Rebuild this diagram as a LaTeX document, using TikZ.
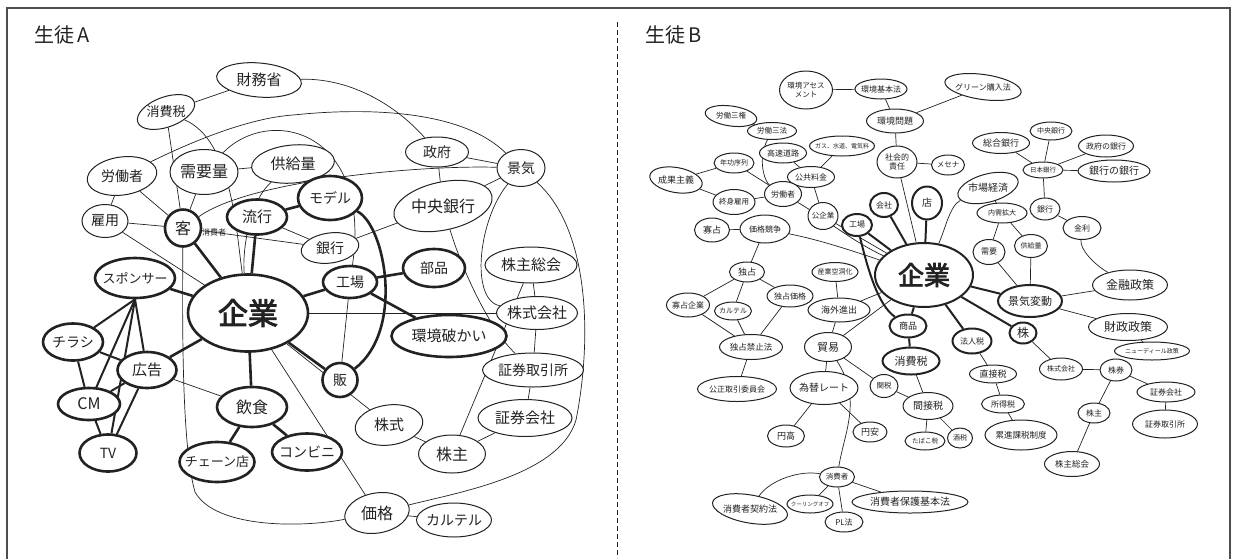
\documentclass[tikz,border=0pt]{standalone}
\usepackage{fontspec}
\setmainfont{Noto Sans CJK JP}
\newfontfamily\jpbold{Noto Sans CJK JP}[FakeBold=3]
\usetikzlibrary{shapes.geometric,backgrounds}
\definecolor{ink}{HTML}{222222}
\newcommand\fz[1]{\fontsize{#1pt}{\dimexpr #1pt*6/5\relax}\selectfont}
\tikzset{
 bub/.style={ellipse,draw=ink,fill=white,line width=1pt,inner sep=0pt},
 tk/.style={line width=2.6pt},
 tkb/.style={line width=2pt},
 txt/.style={inner sep=0pt,align=center,text=ink},
 ln/.style={draw=ink,line width=0.7pt},
 tl/.style={draw=ink,line width=2.6pt},
 tlb/.style={draw=ink,line width=2pt},
}
% #1 options, #2 name, #3 x, #4 y, #5 w, #6 h, #7 rotation of the bubble, #8 text
\newcommand\bb[8][]{\node[bub,minimum width=#5pt,minimum height=#6pt,rotate=#7,#1] (#2) at (#3,#4) {};\node[txt,#1,draw=none,fill=none] at (#2.center) {#8};}
\begin{document}
\begin{tikzpicture}[x=1pt,y=-1pt]
\useasboundingbox (0,0) rectangle (1235,558);
\draw[ink!80,line width=1.2pt] (7,560) -- (7,8) -- (1230,8) -- (1230,560);
\draw[ink,line width=0.8pt,dash pattern=on 5pt off 3pt] (617,22) -- (617,558);
\node[anchor=west,font=\fz{20},inner sep=0,text=ink] (tA) at (34,35) {生徒\,A};
\node[anchor=west,font=\fz{20},inner sep=0,text=ink] (tB) at (645,35) {生徒\,B};
% ---------- Panel A ----------
\bb[font=\fz{15}]{a1}{259}{80}{85}{34}{-5}{財務省}
\bb[font=\fz{13}]{a2}{166}{112}{60}{30}{20}{消費税}
\bb[font=\fz{14}]{a3}{122}{176}{70}{38}{8}{労働者}
\bb[font=\fz{16}]{a4}{204}{172}{68}{45}{0}{需要量}
\bb[font=\fz{15}]{a5}{293}{164}{83}{38}{5}{供給量}
\bb[font=\fz{14}]{a6}{105}{221}{46}{33}{0}{雇用}
\bb[tk,font=\fz{16}]{a7}{183}{228}{36}{37}{0}{客}
\bb[tk,font=\fz{15}]{a8}{257}{217}{60}{35}{0}{流行}
\bb[tk,font=\fz{14}]{a9}{330}{198}{64}{44}{0}{モデル}
\bb[font=\fz{14}]{a10}{330}{248}{58}{30}{8}{銀行}
\bb[font=\fz{14}]{a11}{437}{152}{63}{30}{0}{政府}
\bb[font=\fz{14}]{a12}{521}{168}{48}{37}{0}{景気}
\bb[font=\fz{16}]{a13}{443}{206}{100}{48}{12}{中央銀行}
\bb[tk,font=\fz{14}]{a14}{434}{268}{62}{38}{0}{部品}
\bb[font=\fz{15}]{a15}{531}{265}{92}{36}{0}{株主総会}
\bb[tk,font=\fz{14}]{a16}{350}{282}{54}{32}{0}{工場}
\bb[font=\fz{15}]{a17}{537}{313}{81}{33}{0}{株式会社}
\bb[tk,font=\fz{15}]{a18}{449}{336}{115}{42}{0}{環境破かい}
\bb[font=\fz{14}]{a19}{533}{370}{101}{34}{0}{証券取引所}
\bb[tk,font=\fz{14}]{a20}{340}{380}{35}{34}{0}{販}
\bb[font=\fz{15}]{a21}{389}{425}{68}{40}{8}{株式}
\bb[font=\fz{15}]{a22}{525}{418}{94}{37}{0}{証券会社}
\bb[font=\fz{16}]{a23}{452}{454}{67}{38}{0}{株主}
\bb[font=\fz{16}]{a24}{377}{513}{65}{40}{10}{価格}
\bb[font=\fz{14}]{a25}{454}{520}{75}{34}{0}{カルテル}
\bb[tk,font=\fz{13}]{a26}{135}{278}{80}{40}{0}{スポンサー}
\bb[tk,font=\jpbold\fz{30}]{a27}{248}{313}{120}{77}{0}{企業}
\bb[tk,font=\fz{14}]{a28}{73}{342}{60}{37}{0}{チラシ}
\bb[tk,font=\fz{15}]{a29}{147}{370}{59}{36}{0}{広告}
\bb[tk,font=\fz{16}]{a30}{89}{404}{62}{32}{0}{CM}
\bb[tk,font=\fz{16}]{a31}{252}{407}{70}{40}{0}{飲食}
\bb[tk,font=\fz{14}]{a32}{108}{453}{57}{37}{0}{TV}
\bb[tk,font=\fz{13}]{a33}{217}{462}{75}{40}{0}{チェーン店}
\bb[tk,font=\fz{14}]{a34}{307}{452}{70}{37}{0}{コンビニ}
\node[txt,font=\fz{8}] (a7s) at (214,232) {消費者};
% ---------- Panel B ----------
\bb[font=\fz{7.5}]{b1}{806}{90}{53}{38}{0}{環境アセス\\メント}
\bb[font=\fz{8}]{b2}{881}{89}{52}{20}{0}{環境基本法}
\bb[font=\fz{7.5}]{b3}{731}{116}{52}{20}{-8}{労働三権}
\bb[font=\fz{7.5}]{b4}{772}{131}{49}{17}{0}{労働三法}
\bb[font=\fz{9}]{b5}{895}{121}{57}{24}{0}{環境問題}
\bb[font=\fz{6}]{b6}{842}{146}{65}{20}{0}{ガス、水道、電気料}
\bb[font=\fz{8}]{b7}{897}{162}{40}{32}{0}{社会的\\責任}
\bb[font=\fz{8}]{b8}{783}{153}{47}{20}{0}{高速道路}
\bb[font=\fz{7}]{b9}{734}{163}{40}{20}{0}{年功序列}
\bb[font=\fz{9}]{b10}{676}{180}{53}{25}{-10}{成果主義}
\bb[font=\fz{8}]{b11}{811}{177}{47}{21}{0}{公共料金}
\bb[font=\fz{7.5}]{b12}{734}{202}{42}{25}{0}{終身雇用}
\bb[font=\fz{8}]{b13}{783}{194}{37}{25}{0}{労働者}
\bb[font=\fz{7.5}]{b14}{823}{216}{30}{27}{0}{公企業}
\bb[font=\fz{9}]{b15}{712}{230}{35}{24}{0}{寡占}
\bb[font=\fz{8}]{b16}{765}{229}{50}{28}{0}{価格競争}
\bb[tkb,font=\fz{8}]{b17}{857}{225}{30}{22}{0}{工場}
\bb[tkb,font=\fz{8}]{b18}{884}{205}{28}{24}{0}{会社}
\bb[tkb,font=\fz{10}]{b19}{927}{203}{30}{33}{0}{店}
\bb[font=\fz{7.5}]{b20}{948}{165}{33}{20}{0}{メセナ}
\bb[font=\fz{8}]{b21}{983}{87}{77}{25}{-8}{グリーン購入法}
\bb[font=\fz{9}]{b22}{1001}{143}{57}{21}{0}{総合銀行}
\bb[font=\fz{7}]{b23}{1051}{131}{42}{18}{0}{中央銀行}
\bb[font=\fz{8}]{b24}{1106}{146}{55}{22}{0}{政府の銀行}
\bb[font=\fz{6.5}]{b25}{1043}{170}{40}{16}{0}{日本銀行}
\bb[font=\fz{10}]{b26}{1114}{171}{72}{22}{0}{銀行の銀行}
\bb[font=\fz{10}]{b27}{988}{188}{62}{28}{15}{市場経済}
\bb[font=\fz{7}]{b28}{1002}{213}{50}{20}{0}{内需拡大}
\bb[font=\fz{8}]{b29}{1045}{209}{30}{22}{0}{銀行}
\bb[font=\fz{8}]{b30}{1082}{228}{38}{23}{0}{金利}
\bb[font=\fz{8}]{b31}{989}{252}{32}{25}{0}{需要}
\bb[font=\fz{7}]{b32}{1031}{246}{33}{23}{0}{供給量}
\bb[tkb,font=\jpbold\fz{26}]{b33}{924}{275}{98}{64}{0}{企業}
\bb[tkb,font=\fz{11}]{b34}{1030}{301}{64}{32}{0}{景気変動}
\bb[font=\fz{12}]{b35}{1130}{285}{75}{30}{0}{金融政策}
\bb[font=\fz{12}]{b36}{1128}{327}{79}{27}{0}{財政政策}
\bb[font=\fz{6}]{b37}{1152}{351}{75}{18}{0}{ニューディール政策}
\bb[tkb,font=\fz{12}]{b38}{1023}{333}{27}{21}{0}{株}
\bb[tkb,font=\fz{8}]{b39}{972}{341}{39}{25}{0}{法人税}
\bb[font=\fz{7}]{b40}{1061}{369}{43}{22}{0}{株式会社}
\bb[font=\fz{8}]{b41}{1116}{370}{32}{22}{0}{株券}
\bb[font=\fz{8}]{b42}{1166}{392}{58}{20}{0}{証券会社}
\bb[font=\fz{9}]{b43}{993}{374}{47}{18}{0}{直接税}
\bb[font=\fz{8}]{b44}{1003}{404}{43}{18}{0}{所得税}
\bb[font=\fz{8.5}]{b45}{1021}{435}{72}{30}{0}{累進課税制度}
\bb[font=\fz{8}]{b46}{1094}{413}{32}{20}{0}{株主}
\bb[font=\fz{8}]{b47}{1165}{424}{65}{28}{0}{証券取引所}
\bb[font=\fz{8.5}]{b48}{1072}{464}{55}{25}{0}{株主総会}
\bb[tkb,font=\fz{11}]{b49}{911}{361}{57}{27}{0}{消費税}
\bb[tkb,font=\fz{9}]{b50}{908}{326}{37}{23}{0}{商品}
\bb[font=\fz{7.5}]{b51}{884}{386}{28}{23}{0}{関税}
\bb[font=\fz{10}]{b52}{928}{406}{50}{27}{0}{間接税}
\bb[font=\fz{6.5}]{b53}{925}{441}{40}{18}{0}{たばこ税}
\bb[font=\fz{7}]{b54}{960}{438}{25}{20}{0}{酒税}
\bb[font=\fz{7}]{b55}{835}{272}{46}{19}{0}{産業空洞化}
\bb[font=\fz{9}]{b56}{747}{272}{35}{20}{0}{独占}
\bb[font=\fz{8}]{b57}{790}{296}{46}{22}{0}{独占価格}
\bb[font=\fz{9}]{b58}{839}{310}{62}{24}{0}{海外進出}
\bb[font=\fz{8}]{b59}{688}{305}{43}{24}{0}{寡占企業}
\bb[font=\fz{7}]{b60}{733}{311}{37}{18}{0}{カルテル}
\bb[font=\fz{8.5}]{b61}{751}{347}{63}{25}{0}{独占禁止法}
\bb[font=\fz{11}]{b62}{828}{347}{47}{29}{0}{貿易}
\bb[font=\fz{8}]{b63}{737}{389}{79}{25}{0}{公正取引委員会}
\bb[font=\fz{10}]{b64}{824}{388}{68}{33}{0}{為替レート}
\bb[font=\fz{9}]{b65}{786}{436}{37}{22}{0}{円高}
\bb[font=\fz{9}]{b66}{870}{432}{34}{20}{0}{円安}
\bb[font=\fz{7.5}]{b67}{837}{477}{35}{20}{0}{消費者}
\bb[font=\fz{9}]{b68}{750}{509}{76}{28}{-10}{消費者契約法}
\bb[font=\fz{5.5}]{b69}{810}{504}{46}{18}{0}{クーリングオフ}
\bb[font=\fz{8}]{b70}{844}{522}{38}{20}{0}{PL法}
\bb[font=\fz{10}]{b71}{910}{502}{116}{22}{0}{消費者保護基本法}
\begin{pgfonlayer}{background}
% A thin
\draw[ln] (a1)--(a2);
\draw[ln] (a1) .. controls (360,78) and (405,115) .. (a11);
\draw[ln] (a2)--(a7);
\draw[ln] (a2) .. controls (232,140) and (236,230) .. (a27);
\draw[ln] (a3)--(a6); \draw[ln] (a3)--(a7); \draw[ln] (a6)--(a7);
\draw[ln] (a6)--(a27); \draw[ln] (a4)--(a7); \draw[ln] (a4)--(a5);
\draw[ln] (a3) .. controls (195,140) and (250,118) .. (293,115) .. controls (360,108) and (460,108) .. (a12);
\draw[ln] (a4) .. controls (270,105) and (372,130) .. (a16);
\draw[ln] (a5) .. controls (250,200) and (242,250) .. (a27);
\draw[ln] (a7) .. controls (250,180) and (420,165) .. (a12);
\draw[ln] (a7)--(a10); \draw[ln] (a8)--(a10);
\draw[ln] (a7) .. controls (182,350) and (183,450) .. (195,492) .. controls (215,528) and (300,528) .. (a24);
\draw[ln] (a11)--(a12); \draw[ln] (a11)--(a13); \draw[ln] (a13)--(a12); \draw[ln] (a13)--(a10);
\draw[ln] (a13) .. controls (462,270) and (490,330) .. (a19);
\draw[ln] (a12) .. controls (590,230) and (592,340) .. (576,420) .. controls (560,475) and (460,492) .. (a24);
\draw[ln] (a12) .. controls (478,220) and (470,300) .. (a17);
\draw[ln] (a15)--(a23); \draw[ln] (a15)--(a17); \draw[ln] (a17)--(a19);
\draw[ln] (a19)--(a22); \draw[ln] (a22)--(a23); \draw[ln] (a21)--(a23); \draw[ln] (a24)--(a25);
\draw[ln] (a27)--(a21); \draw[ln] (a27)--(a24); \draw[ln] (a27)--(a17);
\draw[ln] (a29)--(a31); \draw[ln] (a16)--(a20);
% A thick
\draw[tl] (a27)--(a7); \draw[tl] (a27)--(a8); \draw[tl] (a27)--(a16); \draw[tl] (a27)--(a20);
\draw[tl] (a27)--(a31); \draw[tl] (a27)--(a26); \draw[tl] (a27)--(a29);
\draw[tl] (a8)--(a9); \draw[tl] (a16)--(a14); \draw[tl] (a16)--(a18);
\draw[tl] (a31)--(a33); \draw[tl] (a31)--(a34);
\draw[tl] (a9) .. controls (385,225) and (405,330) .. (a20);
\draw[tlb] (a26.south)--(a28); \draw[tlb] (a26.south)--(a30); \draw[tlb] (a26.south)--(a32); \draw[tlb] (a26.south)--(a29);
\draw[tlb] (a28)--(a30); \draw[tlb] (a28)--(a29); \draw[tlb] (a30)--(a29); \draw[tlb] (a30)--(a32); \draw[tlb] (a29)--(a32);
% B thin
\draw[ln] (b1)--(b2); \draw[ln] (b2)--(b5); \draw[ln] (b5)--(b21); \draw[ln] (b5)--(b7);
\draw[ln] (b7)--(b20); \draw[ln] (b7)--(b33);
\draw[ln] (b3)--(b4); \draw[ln] (b4) .. controls (757,160) and (765,182) .. (b13);
\draw[ln] (b9)--(b10); \draw[ln] (b10)--(b12); \draw[ln] (b9)--(b13); \draw[ln] (b12)--(b13);
\draw[ln] (b8)--(b11); \draw[ln] (b6)--(b11); \draw[ln] (b11)--(b14);
\draw[ln] (b13) .. controls (820,215) and (850,240) .. (b33);
\draw[ln] (b14)--(b33);
\draw[ln] (b16) .. controls (820,240) and (850,250) .. (b33);
\draw[ln] (b15)--(b16); \draw[ln] (b16)--(b56); \draw[ln] (b56)--(b59); \draw[ln] (b56)--(b60);
\draw[ln] (b56)--(b57); \draw[ln] (b59)--(b61); \draw[ln] (b60)--(b61); \draw[ln] (b57)--(b61); \draw[ln] (b61)--(b63);
\draw[ln] (b55)--(b58); \draw[ln] (b58)--(b33); \draw[ln] (b58)--(b62); \draw[ln] (b62)--(b64);
\draw[ln] (b64)--(b65); \draw[ln] (b64)--(b66); \draw[ln] (b62)--(b33); \draw[ln] (b62)--(b51);
\draw[ln] (b67) .. controls (845,430) and (862,400) .. (b62);
\draw[ln] (b51)--(b52); \draw[ln] (b49)--(b52); \draw[ln] (b52)--(b53); \draw[ln] (b52)--(b54);
\draw[ln] (b39)--(b43); \draw[ln] (b43)--(b44); \draw[ln] (b44)--(b45);
\draw[ln] (b67) .. controls (800,470) and (770,480) .. (b68);
\draw[ln] (b67)--(b69); \draw[ln] (b67)--(b70); \draw[ln] (b67)--(b71);
\draw[ln] (b33) .. controls (945,230) and (950,205) .. (b27);
\draw[ln] (b27)--(b28); \draw[ln] (b28)--(b31); \draw[ln] (b28)--(b32); \draw[ln] (b31)--(b34); \draw[ln] (b32)--(b34);
\draw[ln] (b34)--(b35); \draw[ln] (b34)--(b36);
\draw[ln] (b35) .. controls (1095,265) and (1080,250) .. (b30);
\draw[ln] (b30)--(b29); \draw[ln] (b29)--(b25); \draw[ln] (b25)--(b23); \draw[ln] (b25)--(b22);
\draw[ln] (b25)--(b24); \draw[ln] (b25)--(b26);
\draw[ln] (b36)--(b37); \draw[ln] (b38)--(b40); \draw[ln] (b40)--(b41); \draw[ln] (b41)--(b42);
\draw[ln] (b42)--(b47); \draw[ln] (b41)--(b46); \draw[ln] (b46)--(b48);
% B thick
\draw[tlb] (b33)--(b17); \draw[tlb] (b33)--(b18); \draw[tlb] (b33)--(b19); \draw[tlb] (b33)--(b34);
\draw[tlb] (b33)--(b38); \draw[tlb] (b33)--(b39); \draw[tlb] (b33)--(b50); \draw[tlb] (b50)--(b49);
\draw[tlb] (b17) .. controls (868,270) and (878,305) .. (b50);
\end{pgfonlayer}
\end{tikzpicture}
\end{document}
